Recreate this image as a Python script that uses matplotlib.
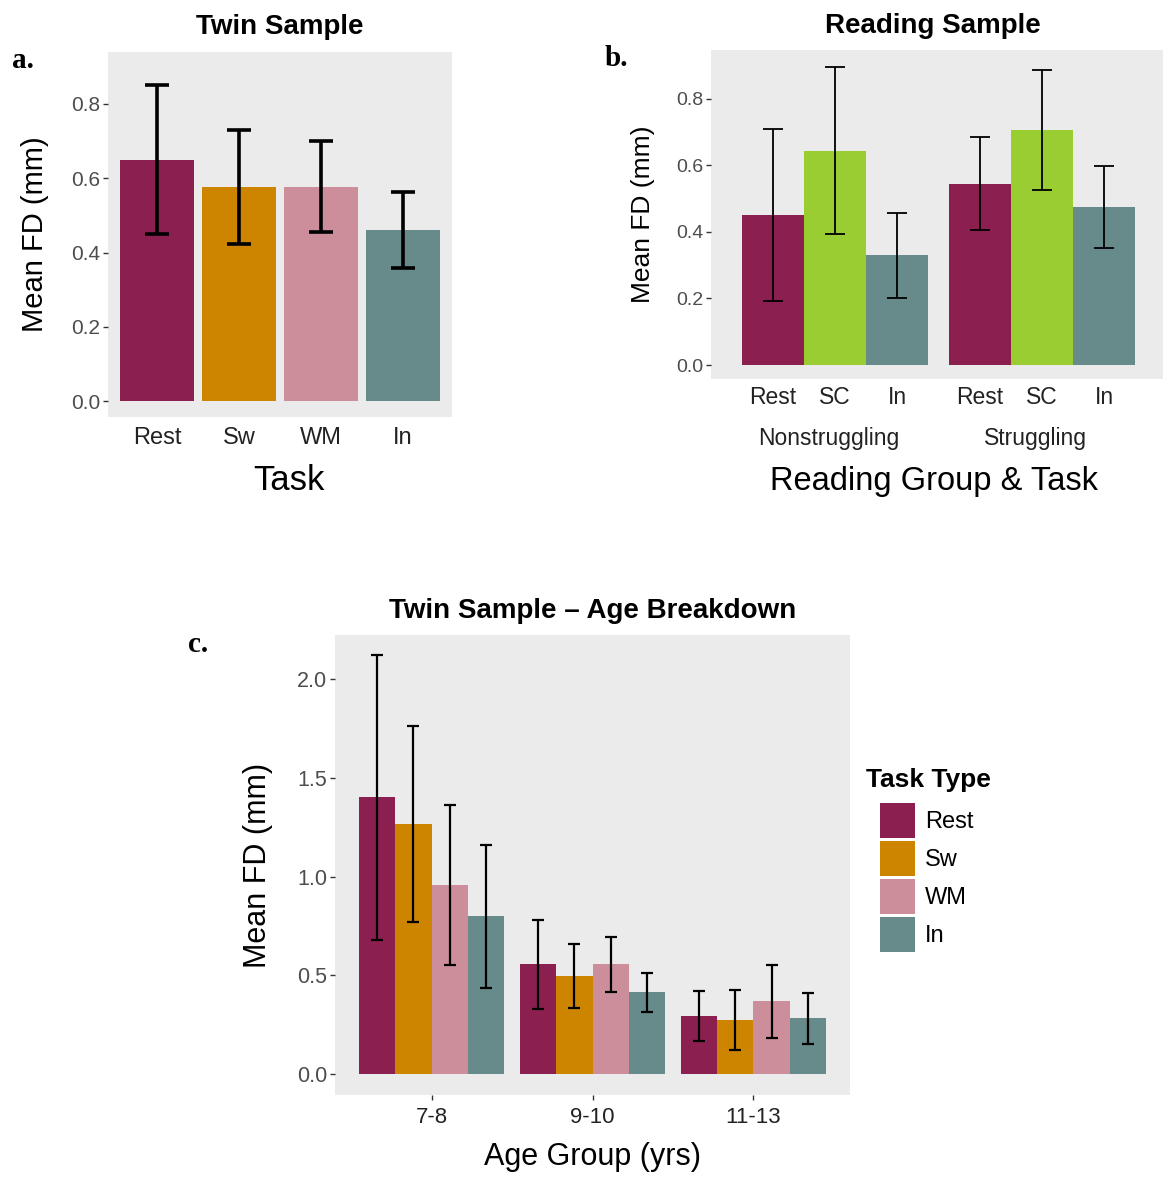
"""Mean FD bar charts: twin sample, reading sample and age breakdown"""

import matplotlib

matplotlib.use("Agg")
import matplotlib.pyplot as plt
import numpy as np
from matplotlib.patches import Patch
from matplotlib.transforms import blended_transform_factory

# region data
TWIN_TASKS = ["Rest", "Sw", "WM", "In"]
TWIN_MEAN = [0.650, 0.577, 0.577, 0.461]
TWIN_SD = [0.201, 0.153, 0.122, 0.102]

READING_GROUPS = ["Nonstruggling", "Struggling"]
READING_TASKS = ["Rest", "SC", "In"]
READING_MEAN = {
    "Rest": [0.451, 0.544],
    "SC": [0.644, 0.705],
    "In": [0.330, 0.475],
}
READING_SD = {
    "Rest": [0.259, 0.140],
    "SC": [0.252, 0.180],
    "In": [0.128, 0.123],
}

AGE_GROUPS = ["7-8", "9-10", "11-13"]
AGE_MEAN = {
    "Rest": [1.400, 0.556, 0.295],
    "Sw": [1.268, 0.496, 0.275],
    "WM": [0.958, 0.556, 0.369],
    "In": [0.798, 0.415, 0.283],
}
AGE_SD = {
    "Rest": [0.721, 0.225, 0.125],
    "Sw": [0.496, 0.161, 0.152],
    "WM": [0.406, 0.139, 0.186],
    "In": [0.362, 0.098, 0.129],
}
# endregion

COLORS = {
    "Rest": "#8B1F4F",
    "Sw": "#CD8500",
    "WM": "#CD8E9B",
    "In": "#668B8A",
    "SC": "#9ACD32",
}
PANEL_BG = "#EBEBEB"
TICK_TEXT = "#4D4D4D"
FONT = ["Liberation Sans", "DejaVu Sans"]

W, H = 1163, 1178

plt.rcParams["font.family"] = FONT


def _rect(left, top, right, bottom):
    """像素框 -> figure 坐标"""
    return [left / W, 1 - bottom / H, (right - left) / W, (bottom - top) / H]


def _style_axis(ax, ytick_size, xtick_size, show_xticks, xpad=7):
    """ggplot 风格的灰底坐标轴"""
    ax.set_facecolor(PANEL_BG)
    for spine in ax.spines.values():
        spine.set_visible(False)
    ax.tick_params(axis="y", length=3.5, width=1, color="#333333",
                   labelsize=ytick_size, labelcolor=TICK_TEXT, pad=2)
    ax.tick_params(axis="x", length=3.5 if show_xticks else 0, width=1,
                   color="#333333", labelsize=xtick_size, labelcolor="#222222",
                   pad=xpad)


fig = plt.figure(figsize=(W / 100, H / 100), dpi=100)

# ---- a. Twin Sample
ax_a = fig.add_axes(_rect(108, 52, 452, 417))
x_a = np.arange(len(TWIN_TASKS))
ax_a.bar(x_a, TWIN_MEAN, width=0.9, color=[COLORS[t] for t in TWIN_TASKS])
ax_a.errorbar(x_a, TWIN_MEAN, yerr=TWIN_SD, fmt="none", ecolor="black",
              elinewidth=2.6, capsize=8.5, capthick=2.6)
ax_a.set_xlim(-0.6, 3.6)
ax_a.set_ylim(-0.043, 0.94)
ax_a.set_yticks([0.0, 0.2, 0.4, 0.6, 0.8])
ax_a.set_yticklabels(["0.0", "0.2", "0.4", "0.6", "0.8"])
ax_a.set_xticks(x_a)
ax_a.set_xticklabels(TWIN_TASKS)
_style_axis(ax_a, 15, 17, False)
ax_a.set_title("Twin Sample", fontsize=20, fontweight="bold", pad=13)
ax_a.set_xlabel("Task", fontsize=25, va="center")
ax_a.xaxis.set_label_coords(0.526, -0.173)
ax_a.set_ylabel("Mean FD (mm)", fontsize=21, va="center")
ax_a.yaxis.set_label_coords(-0.212, 0.5)

# ---- b. Reading Sample
ax_b = fig.add_axes(_rect(711, 50, 1166, 379))
x_b = np.arange(len(READING_GROUPS))
bar_w = 0.3
for i, task in enumerate(READING_TASKS):
    pos = x_b + (i - 1) * bar_w
    ax_b.bar(pos, READING_MEAN[task], width=bar_w, color=COLORS[task])
    ax_b.errorbar(pos, READING_MEAN[task], yerr=READING_SD[task], fmt="none",
                  ecolor="black", elinewidth=1.3, capsize=7, capthick=1.3)
ax_b.set_xlim(-0.6, 1.6)
ax_b.set_ylim(-0.042, 0.946)
ax_b.set_yticks([0.0, 0.2, 0.4, 0.6, 0.8])
ax_b.set_yticklabels(["0.0", "0.2", "0.4", "0.6", "0.8"])
ticks_b = [g + (i - 1) * bar_w for g in x_b for i in range(len(READING_TASKS))]
ax_b.set_xticks(ticks_b)
ax_b.set_xticklabels(READING_TASKS * len(READING_GROUPS))
_style_axis(ax_b, 14, 16.5, False, xpad=5)
trans_b = blended_transform_factory(ax_b.transData, ax_b.transAxes)
for g, name in zip(x_b, READING_GROUPS):
    ax_b.text(g - 0.03, -0.182, name, transform=trans_b, ha="center", va="center",
              fontsize=16.5, color="#222222")
ax_b.set_title("Reading Sample", fontsize=20, fontweight="bold", pad=12, x=0.488)
ax_b.set_xlabel("Reading Group & Task", fontsize=23.5, va="center")
ax_b.xaxis.set_label_coords(0.49, -0.313)
ax_b.set_ylabel("Mean FD (mm)", fontsize=19, va="center")
ax_b.yaxis.set_label_coords(-0.15, 0.5)

# ---- c. Twin Sample - Age Breakdown
ax_c = fig.add_axes(_rect(335, 635, 850, 1095))
x_c = np.arange(len(AGE_GROUPS))
tasks_c = list(AGE_MEAN.keys())
bar_wc = 0.225
for i, task in enumerate(tasks_c):
    pos = x_c + (i - 1.5) * bar_wc
    ax_c.bar(pos, AGE_MEAN[task], width=bar_wc, color=COLORS[task])
    ax_c.errorbar(pos, AGE_MEAN[task], yerr=AGE_SD[task], fmt="none",
                  ecolor="black", elinewidth=1.6, capsize=4, capthick=1.6)
ax_c.set_xlim(-0.6, 2.6)
ax_c.set_ylim(-0.105, 2.222)
ax_c.set_yticks([0.0, 0.5, 1.0, 1.5, 2.0])
ax_c.set_yticklabels(["0.0", "0.5", "1.0", "1.5", "2.0"])
ax_c.set_xticks(x_c)
ax_c.set_xticklabels(AGE_GROUPS)
_style_axis(ax_c, 15.5, 16, True, xpad=5)
ax_c.set_title("Twin Sample \u2013 Age Breakdown", fontsize=20, fontweight="bold", pad=12)
ax_c.set_xlabel("Age Group (yrs)", fontsize=22, va="center")
ax_c.xaxis.set_label_coords(0.5, -0.135)
ax_c.set_ylabel("Mean FD (mm)", fontsize=22, va="center")
ax_c.yaxis.set_label_coords(-0.15, 0.5)

# legend: title drawn separately so the keys sit indented like ggplot
fig.text(866 / W, 1 - 780 / H, "Task Type", fontsize=19, fontweight="bold",
         ha="left", va="center")
handles = [Patch(facecolor=COLORS[t], edgecolor="none", label=t) for t in tasks_c]
fig.legend(handles=handles, loc="upper left", bbox_to_anchor=(880 / W, 1 - 803 / H),
           frameon=False, fontsize=17, handlelength=1.48, handleheight=1.9,
           labelspacing=0.13, handletextpad=0.42, borderpad=0, borderaxespad=0)

# panel letters
for letter, px, py in [("a.", 12, 60), ("b.", 605, 58), ("c.", 188, 645)]:
    fig.text(px / W, 1 - py / H, letter, fontsize=21, fontweight="bold",
             family=["Liberation Serif", "DejaVu Serif"], va="center", ha="left")

fig.savefig("out.png", dpi=100)
